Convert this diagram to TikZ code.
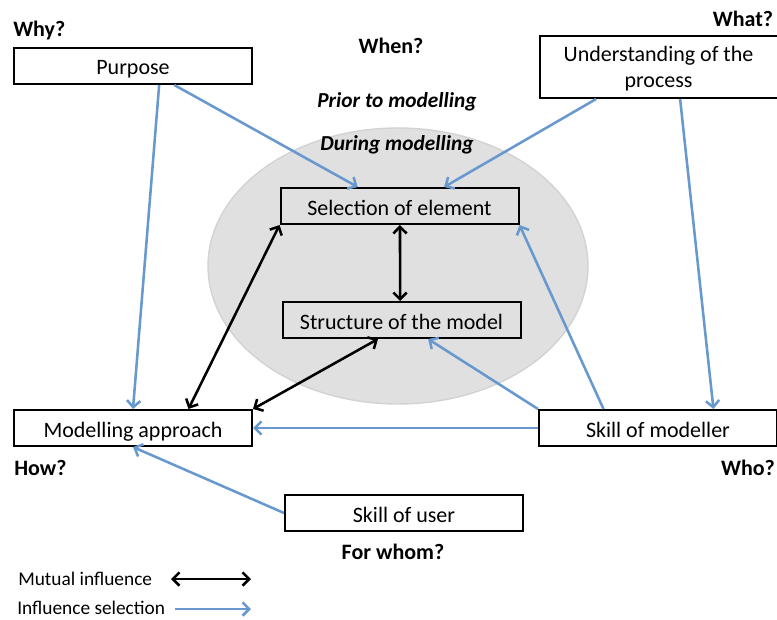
\documentclass[tikz,border=0pt]{standalone}
\usepackage{fontspec}
\setmainfont{Carlito}
\usetikzlibrary{arrows.meta,calc}
\definecolor{blu}{RGB}{103,152,206}
\definecolor{ellfill}{RGB}{224,224,224}
\definecolor{elldraw}{RGB}{210,210,210}
\begin{document}
\begin{tikzpicture}[x=0.75pt,y=-0.75pt,
  box/.style={draw=black,line width=1.5pt,fill=white,minimum width=178.5pt,minimum height=27pt,inner sep=0pt,font=\fontsize{16.5}{19}\selectfont,text height=13.5pt,text depth=0pt},
  ibox/.style={box,fill=none},
  qlabel/.style={font=\fontsize{16.5}{19}\selectfont\bfseries,inner sep=0pt},
  tlabel/.style={font=\fontsize{16}{19}\selectfont\bfseries\itshape,inner sep=0pt},
  leg/.style={font=\fontsize{14.5}{17}\selectfont,inner sep=0pt},
  infl/.style={draw=blu,line width=1.9pt,-{Straight Barb[length=5pt,width=10pt]}},
  mutual/.style={draw=black,line width=1.9pt,{Straight Barb[length=5pt,width=10pt]}-{Straight Barb[length=5pt,width=10pt]}}
]
\useasboundingbox (0,0) rectangle (777,620);
\fill[white] (0,0) rectangle (777,620);

% ellipse
\draw[fill=ellfill,draw=elldraw,line width=1pt] (398,266) ellipse [x radius=142.5pt,y radius=103.5pt];

% boxes
\node[box] (purpose) at (133,66) {Purpose};
\node[box,minimum height=46.5pt,text height=10pt,text depth=17.5pt] (underst) at (658.5,67) {\begin{tabular}[t]{@{}c@{}}Understanding of the\\process\end{tabular}};
\node[ibox] (select) at (399.5,206) {Selection of element};
\node[ibox] (struct) at (401.5,320) {Structure of the model};
\node[box] (approach) at (133,428) {Modelling approach};
\node[box] (modeller) at (658,428) {Skill of modeller};
\node[box] (user) at (404,513) {Skill of user};

% labels
\node[qlabel,anchor=west] (why) at (13,31) {Why?};
\node[qlabel] (when) at (391,46) {When?};
\node[qlabel] (what) at (743,19) {What?};
\node[tlabel] (prior) at (397,102) {Prior to modelling};
\node[tlabel] (during) at (397,145) {During modelling};
\node[qlabel,anchor=west] (how) at (14,468) {How?};
\node[qlabel] (who) at (748,468) {Who?};
\node[qlabel] (forwhom) at (393,552) {For whom?};

% blue influence arrows
\draw[infl] ($(purpose.south west)!0.672!(purpose.south east)$) -- ($(select.north west)!0.326!(select.north east)$);
\draw[infl] ($(purpose.south west)!0.609!(purpose.south east)$) -- (approach.north);
\draw[infl] ($(underst.south west)!0.24!(underst.south east)$) -- ($(select.north west)!0.686!(select.north east)$);
\draw[infl] ($(underst.south west)!0.59!(underst.south east)$) -- ($(modeller.north west)!0.731!(modeller.north east)$);
\draw[infl] ($(modeller.north west)!0.273!(modeller.north east)$) -- (select.south east);
\draw[infl] (modeller.north west) -- ($(struct.south west)!0.611!(struct.south east)$);
\draw[infl] (modeller.west) -- (approach.east);
\draw[infl] (user.west) -- (approach.south);

% black mutual arrows
\draw[mutual] ($(select.south west)!0.502!(select.south east)$) -- ($(struct.north west)!0.494!(struct.north east)$);
\draw[mutual] (select.south west) -- ($(approach.north west)!0.731!(approach.north east)$);
\draw[mutual] ($(struct.south west)!0.402!(struct.south east)$) -- (approach.north east);

% legend
\node[leg,anchor=west] (legm) at (18,579) {Mutual influence};
\coordinate (m1) at (171,579);
\coordinate (m2) at (251,579);
\draw[mutual] (m1) -- (m2);
\node[leg,anchor=west] (legi) at (17,608) {Influence selection};
\coordinate (i1) at (175,609);
\coordinate (i2) at (251,609);
\draw[infl] (i1) -- (i2);
\end{tikzpicture}
\end{document}
